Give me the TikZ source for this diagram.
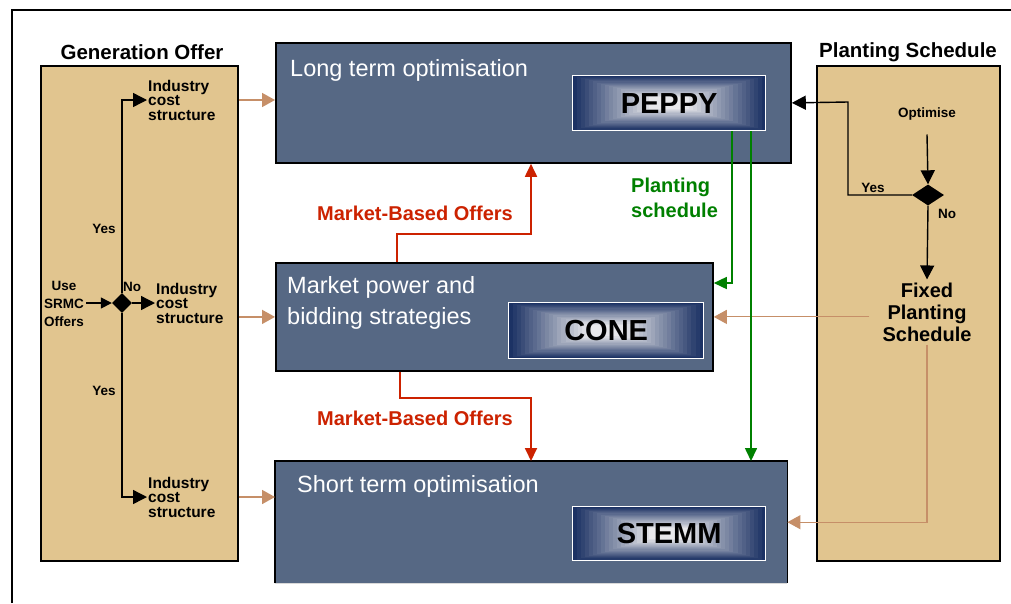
\documentclass[tikz,border=0pt]{standalone}
\usepackage{fontspec}
\setmainfont{Liberation Sans}
\usetikzlibrary{arrows.meta,shapes.geometric,calc}
\definecolor{boxblue}{RGB}{86,104,132}
\definecolor{tanfill}{RGB}{225,197,143}
\definecolor{tanline}{RGB}{198,143,104}
\definecolor{offred}{RGB}{204,34,0}
\definecolor{schedgreen}{RGB}{0,128,0}
\definecolor{navy}{RGB}{28,50,100}
\definecolor{lightcore}{RGB}{232,232,235}
\begin{document}
\begin{tikzpicture}[x=1pt,y=-1pt,
  panel/.style={draw=black, line width=1.8pt, fill=tanfill, anchor=north west, inner sep=0pt},
  stage/.style={fill=boxblue, draw=black, line width=1.8pt, anchor=north west, inner sep=0pt},
  stagetext/.style={text=white, inner sep=0pt, font=\fontsize{23.5}{31}\selectfont},
  prog/.style={draw=white, line width=1.3pt, anchor=north west, inner sep=0pt,
    font=\bfseries\fontsize{29}{32}\selectfont, text=black,
    path picture={
      \foreach \k in {0,...,23}{
        \pgfmathsetmacro\f{1-\k/24}
        \pgfmathtruncatemacro\p{min(100,\k*100/19)}
        \fill[lightcore!\p!navy] ($(path picture bounding box.center)!\f!(path picture bounding box.south west)$) rectangle ($(path picture bounding box.center)!\f!(path picture bounding box.north east)$);
      }}},
  paneltitle/.style={font=\bfseries\fontsize{20.5}{24}\selectfont, inner sep=0pt},
  indlbl/.style={font=\bfseries\fontsize{15.5}{14.5}\selectfont, align=left, anchor=west, inner sep=1pt},
  smalllbl/.style={font=\bfseries\fontsize{13.5}{18}\selectfont, inner sep=2pt},
  redlbl/.style={font=\bfseries\fontsize{20}{24}\selectfont, text=offred, inner sep=0pt},
  greenlbl/.style={font=\bfseries\fontsize{20}{25}\selectfont, text=schedgreen, inner sep=0pt, align=left},
  bigblk/.style={font=\bfseries\fontsize{20}{22}\selectfont, align=center},
  decision/.style={diamond, fill=black, inner sep=0pt},
  blkarrow/.style={draw=black, line width=1.4pt, -{Triangle[length=14pt,width=14pt]}},
  tanarrow/.style={draw=tanline, line width=1.6pt, -{Triangle[length=13pt,width=14pt]}},
  tanthin/.style={draw=tanline, line width=1.1pt, -{Triangle[length=13pt,width=14pt]}},
  redarrow/.style={draw=offred, line width=1.8pt, -{Triangle[length=13pt,width=12pt]}},
  greenarrow/.style={draw=schedgreen, line width=1.6pt, -{Triangle[length=13pt,width=12pt]}}
]
\useasboundingbox (0,0) rectangle (1011,603);
\fill[white] (0,0) rectangle (1011,603);
% outer frame
\draw[line width=2pt] (12,603) -- (12,10) -- (1011,10);

% panels
\node[panel, minimum width=197pt, minimum height=495pt] (gen) at (40,65) {};
\node[panel, minimum width=183pt, minimum height=495pt] (plant) at (816,65) {};
\node[paneltitle] (gentitle) at (142,52) {Generation Offer};
\node[paneltitle] (planttitle) at (908,52) {Planting Schedule};

% stages
\node[stage, minimum width=515pt, minimum height=120pt] (long) at (275,42) {};
\node[stage, minimum width=437pt, minimum height=108pt] (market) at (275,262) {};
\node[fill=boxblue, anchor=north west, inner sep=0pt, minimum width=512pt, minimum height=122pt] (short) at (275,461) {};
\draw[line width=1.8pt] (short.south west) -- (short.north west) -- (short.north east) -- (short.south east);
\draw[black!15, line width=1pt] (short.south west) -- (short.south east);

\node[stagetext, anchor=base west] (longlbl) at (290,76) {Long term optimisation};
\node[stagetext, anchor=base west] (shortlbl) at (297,492) {Short term optimisation};
\node[stagetext, anchor=west, align=left] (marketlbl) at (287,302.5) {Market power and\\bidding strategies};

\node[prog, minimum width=193pt, minimum height=55pt] (peppy) at (572,75) {PEPPY};
\node[prog, minimum width=195pt, minimum height=56pt] (cone) at (508,302) {CONE};
\node[prog, minimum width=193pt, minimum height=54pt] (stemm) at (572,506) {STEMM};

% generation offer panel content
\node[smalllbl, align=center] (use) at (64,304) {Use\\SRMC\\Offers};
\node[decision, minimum width=20pt, minimum height=20pt] (d1) at (122,303) {};
\node[indlbl] (ind1) at (147,100) {Industry\\cost\\structure};
\node[indlbl] (ind2) at (155,303) {Industry\\cost\\structure};
\node[indlbl] (ind3) at (147,497) {Industry\\cost\\structure};
\node[smalllbl] (yes1) at (104,229) {Yes};
\node[smalllbl] (yes2) at (104,391) {Yes};
\node[smalllbl] (no1) at (132,287) {No};
\draw[blkarrow, -{Triangle[length=11pt,width=11pt]}] (use.east |- d1.west) -- (d1.west);
\draw[blkarrow] (d1.north) |- (ind1.west);
\draw[blkarrow] (d1.east) -- (ind2.west);
\draw[blkarrow] (d1.south) |- (ind3.west);

\draw[tanarrow] (gen.east |- ind1.west) -- (long.west |- ind1.west);
\draw[tanarrow] (gen.east |- market.west) -- (market.west);
\draw[tanarrow] (gen.east |- ind3.west) -- (short.west |- ind3.west);

% planting schedule panel content
\node[smalllbl] (opt) at (927,114) {Optimise};
\node[decision, minimum width=32pt, minimum height=21pt] (d2) at (928,195) {};
\node[bigblk, inner xsep=13pt, inner ysep=3pt] (fixed) at (927,312) {Fixed\\Planting\\Schedule};
\node[smalllbl] (yes3) at (873,188) {Yes};
\node[smalllbl] (no2) at (947,214) {No};
\coordinate (yesturn) at (848,102);
\draw[blkarrow] ([yshift=-12pt]opt.south) -- (d2.north);
\draw[blkarrow] (d2.south) -- (fixed.north);
\draw[blkarrow] (d2.west) -| (yesturn) -- (long.east);
\draw[tanthin] (fixed.west |- market.east) -- (market.east);
\draw[tanthin] (fixed.south) |- (short.east);

% market-based offers
\coordinate (r1) at ([xshift=122pt]market.north west);
\coordinate (r1t) at ([xshift=256pt]long.south west);
\draw[redarrow] (r1) -- ++(0,-28) -| (r1t);
\coordinate (r2) at ([xshift=125pt]market.south west);
\coordinate (r2t) at ([xshift=256pt]short.north west);
\draw[redarrow] (r2) -- ++(0,26) -| (r2t);
\node[redlbl] (mbo1) at (415,213) {Market-Based Offers};
\node[redlbl] (mbo2) at (415,418) {Market-Based Offers};

% planting schedule flows
\coordinate (g1) at ([xshift=160pt]peppy.south west);
\coordinate (g2) at ([xshift=179pt]peppy.south west);
\draw[greenarrow] (g1) |- ([yshift=-21pt]market.north east);
\draw[greenarrow] (g2) -- (g2 |- short.north);
\node[greenlbl, anchor=west] (psl) at (631,198) {Planting\\schedule};
\end{tikzpicture}
\end{document}
